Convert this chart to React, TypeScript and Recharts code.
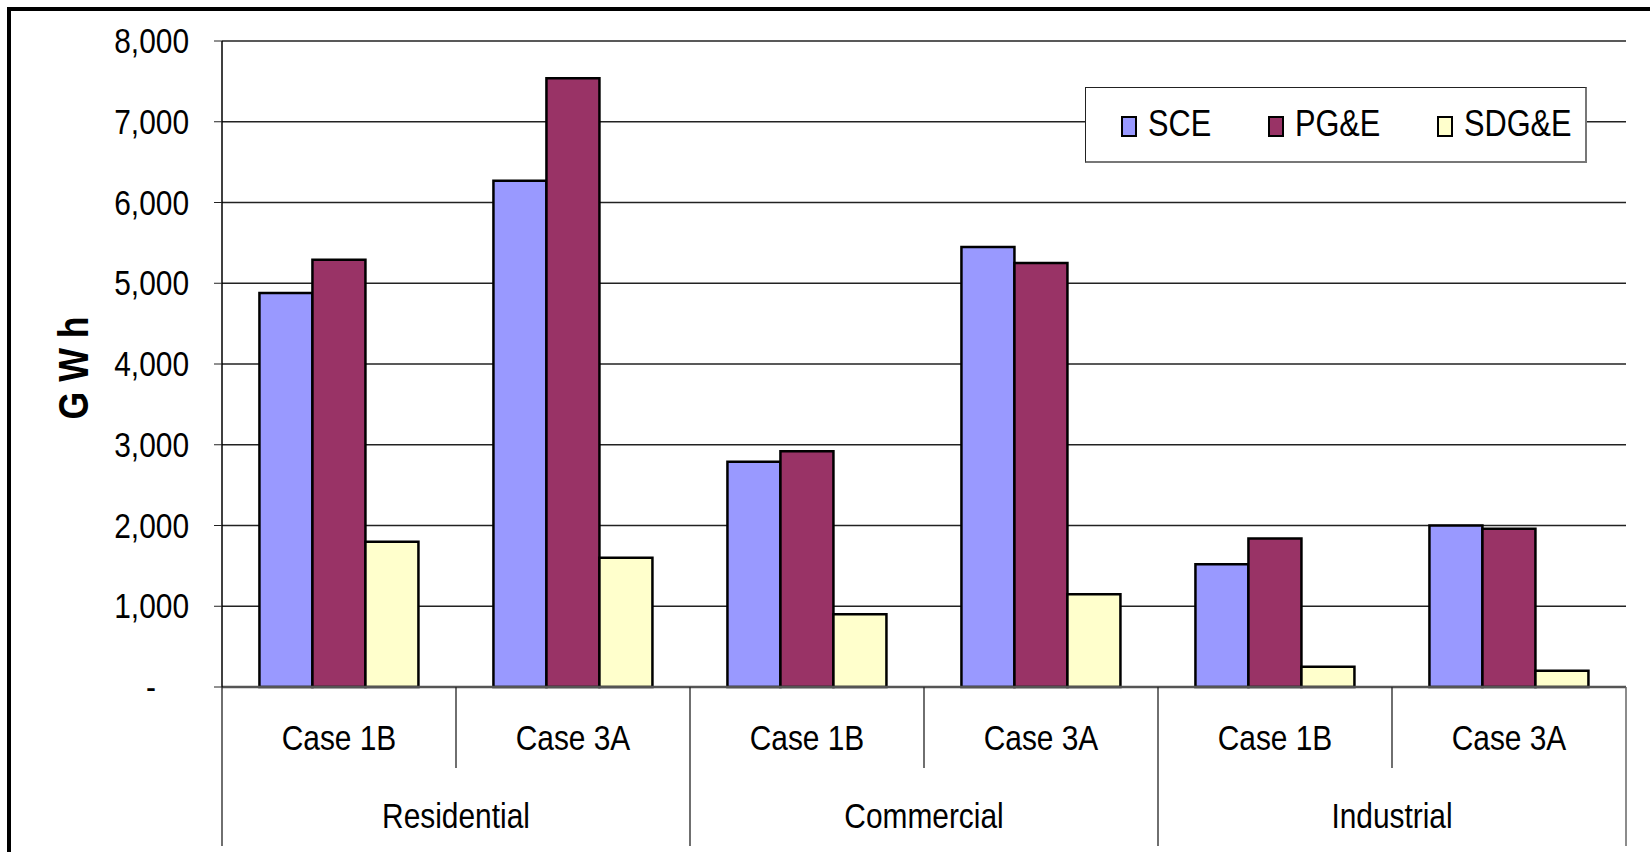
import { Bar, BarChart, CartesianGrid, XAxis, YAxis } from "recharts";

const groups = ["Residential", "Commercial", "Industrial"];
const cases = ["Case 1B", "Case 3A", "Case 1B", "Case 3A", "Case 1B", "Case 3A"];
const sce = [4880, 6270, 2790, 5450, 1520, 2000];
const pge = [5290, 7540, 2920, 5250, 1840, 1960];
const sdge = [1800, 1600, 900, 1150, 250, 200];
const yTicks = [0, 1000, 2000, 3000, 4000, 5000, 6000, 7000, 8000];

const series = [
  { key: "SCE", color: "#9999FF" },
  { key: "PG&E", color: "#993366" },
  { key: "SDG&E", color: "#FFFFCC" },
];

const data = cases.map((c, i) => ({
  id: `${groups[Math.floor(i / 2)]} ${c}`,
  SCE: sce[i],
  "PG&E": pge[i],
  "SDG&E": sdge[i],
}));

// no narrow face installed, so squeeze Liberation Sans horizontally
const FONT = "'Liberation Sans', Arial, sans-serif";
const SQUEEZE = 0.83;
const W = 1650;
const H = 852;
const M = { top: 41, right: 24, bottom: 6, left: 0 };
const Y_W = 222;
const X_H = 159;
const BAND = (W - M.right - Y_W) / cases.length;

function NarrowText({ x, y, anchor = "middle", size = 35, bold = false, rotate = 0, children }: any) {
  return (
    <text
      transform={`translate(${x},${y}) rotate(${rotate}) scale(${SQUEEZE},1)`}
      textAnchor={anchor}
      fontSize={size}
      fontWeight={bold ? "bold" : "normal"}
      fontFamily={FONT}
      fill="#000"
    >
      {children}
    </text>
  );
}

function CaseTick(props: any) {
  const { x, y, payload } = props;
  const i = payload.index;
  const left = x - BAND / 2;
  const groupStart = i % 2 === 0;
  const last = i === cases.length - 1;
  return (
    <g>
      <line x1={left} x2={left} y1={y} y2={groupStart ? y + 159 : y + 81} stroke="#222" strokeWidth={1.3} />
      {last && <line x1={x + BAND / 2} x2={x + BAND / 2} y1={y} y2={y + 159} stroke="#666" strokeWidth={1.5} />}
      <NarrowText x={x} y={y + 63} size={36}>{cases[i]}</NarrowText>
      {groupStart && <NarrowText x={x + BAND / 2} y={y + 141} size={36}>{groups[i / 2]}</NarrowText>}
    </g>
  );
}

function ValueTick(props: any) {
  const { x, y, payload } = props;
  const v = payload.value as number;
  const label = v === 0 ? "-" : v.toLocaleString("en-US");
  return (
    <NarrowText x={v === 0 ? x - 33 : x} y={y + 12} anchor="end" size={36}>
      {label}
    </NarrowText>
  );
}

function YLabel(props: any) {
  const vb = props.viewBox || { y: M.top, height: 645 };
  const cy = vb.y + vb.height / 2 + 4;
  return (
    <NarrowText x={88} y={cy} size={43} bold rotate={-90}>
      G W h
    </NarrowText>
  );
}

export default function App() {
  return (
    <div style={{ position: "absolute", left: 0, top: 0, width: W, height: H, overflow: "hidden", background: "#fff" }}>
      <div
        style={{
          position: "absolute",
          left: 7,
          top: 7,
          width: W + 20,
          height: H + 20,
          borderTop: "4px solid #000",
          borderLeft: "4px solid #000",
        }}
      />
      <div style={{ position: "absolute", left: 0, top: 0 }}>
        <BarChart width={W} height={H} data={data} margin={M} barCategoryGap="16%" barGap={0}>
          <CartesianGrid vertical={false} stroke="#222" strokeWidth={1.3} />
          <XAxis
            dataKey="id"
            height={X_H}
            interval={0}
            tickLine={false}
            tickSize={0}
            tickMargin={0}
            axisLine={{ stroke: "#555", strokeWidth: 2.5 }}
            tick={<CaseTick />}
          />
          <YAxis
            width={Y_W}
            domain={[0, 8000]}
            ticks={yTicks}
            interval={0}
            tickSize={8}
            tickMargin={25}
            axisLine={{ stroke: "#000", strokeWidth: 1.5 }}
            tickLine={{ stroke: "#222" }}
            tick={<ValueTick />}
            label={<YLabel />}
          />
          <YAxis
            yAxisId="frame"
            orientation="right"
            width={0}
            domain={[0, 8000]}
            tick={false}
            tickLine={false}
            axisLine={{ stroke: "#777", strokeWidth: 1.5 }}
          />
          {series.map((s) => (
            <Bar
              key={s.key}
              dataKey={s.key}
              fill={s.color}
              stroke="#000"
              strokeWidth={2.5}
              isAnimationActive={false}
            />
          ))}
        </BarChart>
      </div>
      <div
        style={{
          position: "absolute",
          left: 1085,
          top: 87,
          width: 502,
          height: 76,
          background: "#fff",
          border: "1px solid #222",
          borderRight: "2px solid #777",
          borderBottom: "2px solid #777",
          boxSizing: "border-box",
          fontFamily: FONT,
          fontSize: 37,
          color: "#000",
        }}
      >
        {series.map((s, i) => (
          <div
            key={s.key}
            style={{
              position: "absolute",
              left: [35, 182, 351][i],
              top: 16,
              display: "flex",
              alignItems: "center",
              whiteSpace: "nowrap",
              height: 40,
            }}
          >
            <span
              style={{
                display: "inline-block",
                width: 12,
                height: 17,
                background: s.color,
                border: "2.5px solid #000",
                marginRight: 11,
                marginTop: 4,
              }}
            />
            <span style={{ display: "inline-block", transform: `scaleX(${SQUEEZE})`, transformOrigin: "left center" }}>
              {s.key}
            </span>
          </div>
        ))}
      </div>
    </div>
  );
}
